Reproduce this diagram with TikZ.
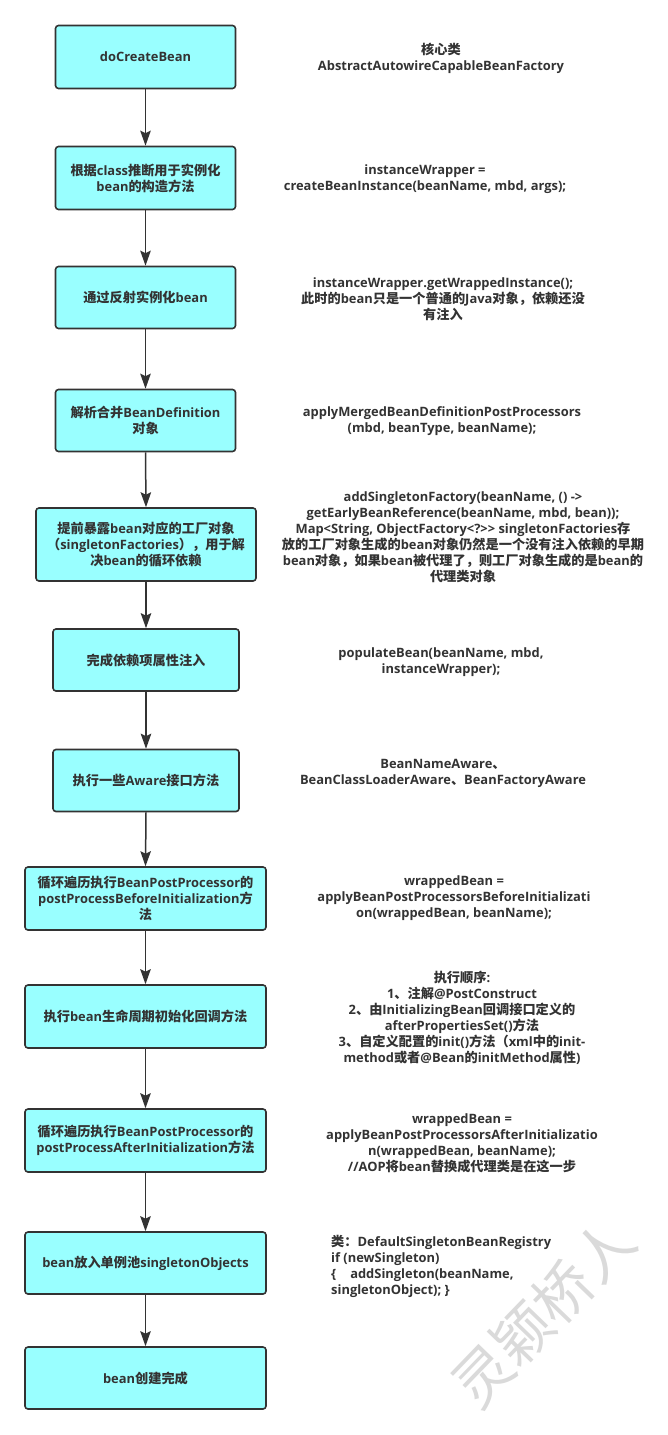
\documentclass[tikz,border=0pt]{standalone}
\usepackage{fontspec}
\setmainfont{Open Sans}
\newfontfamily\cjkfont{Noto Sans CJK SC}
\XeTeXinterchartokenstate=1
\newXeTeXintercharclass\CJKcls
\count255="3000
\loop \XeTeXcharclass\count255=\CJKcls \ifnum\count255<"9FFF \advance\count255 by 1 \repeat
\count255="FF00
\loop \XeTeXcharclass\count255=\CJKcls \ifnum\count255<"FFEF \advance\count255 by 1 \repeat
\XeTeXinterchartoks 0 \CJKcls = {\begingroup\cjkfont\fontsize{13.2}{16}\selectfont}
\XeTeXinterchartoks 4095 \CJKcls = {\begingroup\cjkfont\fontsize{13.2}{16}\selectfont}
\XeTeXinterchartoks \CJKcls 0 = {\endgroup}
\XeTeXinterchartoks \CJKcls 4095 = {\endgroup}
\usetikzlibrary{arrows.meta}
\definecolor{boxfill}{HTML}{99FFFF}
\definecolor{ink}{HTML}{333333}
\definecolor{wmark}{HTML}{DADADA}
\tikzset{
  stepbox/.style={draw=ink, fill=boxfill, line width=1.6pt, rounded corners=3pt,
    align=center, text=ink, font=\fontsize{12.9}{16}\selectfont\bfseries, inner sep=0pt},
  note/.style={align=center, text=ink, font=\fontsize{12.9}{16}\selectfont\bfseries, inner sep=0pt},
  flow/.style={draw=ink, line width=1.5pt, -{Stealth[length=15pt,width=10.5pt,inset=2.5pt]}},
}
\begin{document}
\begin{tikzpicture}[x=1pt,y=-1pt]
\useasboundingbox[fill=white] (0,0) rectangle (667,1435);
% watermark
\node[text=wmark, font={\XeTeXinterchartokenstate=0 \cjkfont\fontsize{58}{58}\selectfont}, rotate=46, inner sep=0pt] (wm) at (543,1313) {灵颖桥人};
% boxes
\node[stepbox, minimum width=180pt, minimum height=63pt] (b1) at (145.5,57) {doCreateBean};
\node[stepbox, minimum width=180pt, minimum height=63pt] (b2) at (145.5,178) {根据class推断用于实例化\\bean的构造方法};
\node[stepbox, minimum width=180pt, minimum height=62pt] (b3) at (145.5,297.5) {通过反射实例化bean};
\node[stepbox, minimum width=180pt, minimum height=62pt] (b4) at (145.5,420.5) {解析合并BeanDefinition\\对象};
\node[stepbox, minimum width=220pt, minimum height=73pt] (b5) at (146,544.5) {提前暴露bean对应的工厂对象\\（singletonFactories），用于解\\决bean的循环依赖};
\node[stepbox, minimum width=186pt, minimum height=62pt] (b6) at (146,660) {完成依赖项属性注入};
\node[stepbox, minimum width=186pt, minimum height=62pt] (b7) at (146,780.5) {执行一些Aware接口方法};
\node[stepbox, minimum width=241pt, minimum height=63pt] (b8) at (145.5,898.5) {循环遍历执行BeanPostProcessor的\\postProcessBeforeInitialization方\\法};
\node[stepbox, minimum width=241pt, minimum height=63pt] (b9) at (145.5,1016.5) {执行bean生命周期初始化回调方法};
\node[stepbox, minimum width=241pt, minimum height=63pt] (b10) at (145.5,1140.5) {循环遍历执行BeanPostProcessor的\\postProcessAfterInitialization方法};
\node[stepbox, minimum width=241pt, minimum height=62pt] (b11) at (145.5,1263) {bean放入单例池singletonObjects};
\node[stepbox, minimum width=241pt, minimum height=62pt] (b12) at (145.5,1378) {bean创建完成};
% arrows
\foreach \a/\b in {b1/b2,b2/b3,b3/b4,b4/b5,b5/b6,b6/b7,b7/b8,b8/b9,b9/b10,b10/b11,b11/b12}
  \draw[flow] (\a.south) -- (\b.north);
% notes
\node[note] (n1) at (441,58) {核心类\\AbstractAutowireCapableBeanFactory};
\node[note] (n2) at (425,179) {instanceWrapper =\\createBeanInstance(beanName, mbd, args);};
\node[note] (n3) at (443,299) {instanceWrapper.getWrappedInstance();\\此时的bean只是一个普通的Java对象，依赖还没\\有注入};
\node[note] (n4) at (442,421) {applyMergedBeanDefinitionPostProcessors\\(mbd, beanType, beanName);};
\node[note] (n5) at (463,537) {addSingletonFactory(beanName, () ->\\getEarlyBeanReference(beanName, mbd, bean));\\Map<String, ObjectFactory<?>{}> singletonFactories存\\放的工厂对象生成的bean对象仍然是一个没有注入依赖的早期\\bean对象，如果bean被代理了，则工厂对象生成的是bean的\\代理类对象};
\node[note] (n6) at (441,662) {populateBean(beanName, mbd,\\instanceWrapper);};
\node[note] (n7) at (443,773) {BeanNameAware、\\BeanClassLoaderAware、BeanFactoryAware};
\node[note] (n8) at (454,898) {wrappedBean =\\applyBeanPostProcessorsBeforeInitializati\\on(wrappedBean, beanName);};
\node[note] (n9) at (462,1018) {执行顺序:\\1、注解@PostConstruct\\2、由InitializingBean回调接口定义的\\afterPropertiesSet()方法\\3、自定义配置的init()方法（xml中的init-\\method或者@Bean的initMethod属性)};
\node[note] (n10) at (462,1143) {wrappedBean =\\applyBeanPostProcessorsAfterInitializatio\\n(wrappedBean, beanName);\\//AOP将bean替换成代理类是在这一步};
\node[note, align=left, anchor=west] (n11) at (331,1266) {类：DefaultSingletonBeanRegistry\\if (newSingleton)\\\{\hspace{14pt}addSingleton(beanName,\\singletonObject); \}};
\end{tikzpicture}
\end{document}
